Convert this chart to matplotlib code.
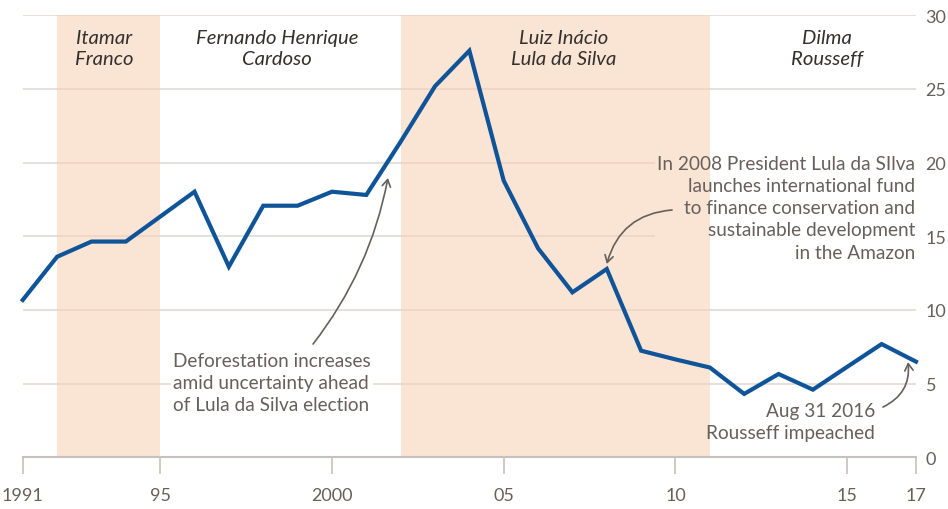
import matplotlib

matplotlib.use("Agg")
import matplotlib.pyplot as plt

plt.rcParams["font.family"] = ["Lato", "DejaVu Sans"]

# Amazon deforestation, thousand sq km (no separate point drawn for 1995)
years = [1991, 1992, 1993, 1994, 1996, 1997, 1998, 1999, 2000, 2001, 2002, 2003,
         2004, 2005, 2006, 2007, 2008, 2009, 2010, 2011, 2012, 2013, 2014, 2015,
         2016, 2017]
area = [10.68, 13.61, 14.64, 14.64, 18.02, 12.94, 17.07, 17.07, 18.02, 17.8, 21.41,
        25.17, 27.58, 18.77, 14.18, 11.2, 12.78, 7.24, 6.65, 6.1, 4.31, 5.66, 4.6,
        6.15, 7.69, 6.5]

shaded_terms = [(1992, 1995), (2002, 2011)]
presidents = ["Itamar\nFranco", "Fernando Henrique\nCardoso", "Luiz Inácio\nLula da Silva",
              "Dilma\nRousseff"]
president_x = [1993.38, 1998.4, 2006.75, 2014.4]

x_ticks = [1991, 1995, 2000, 2005, 2010, 2015, 2017]
x_labels = ["1991", "95", "2000", "05", "10", "15", "17"]
y_ticks = [0, 5, 10, 15, 20, 25, 30]

BLUE = "#0f5499"
GRID = "#e2dad3"
AXIS = "#c8c1bb"
NOTE = "#66605c"
DARK = "#33302e"
SHADE = "#f7d2b7"

fig = plt.figure(figsize=(9.48, 5.10), dpi=100)
ax = fig.add_axes([0.024, 0.101, 0.9422, 0.8676])
ax.set_xlim(1991, 2017)
ax.set_ylim(0, 30)

for y in y_ticks[1:]:
    ax.axhline(y, color=GRID, lw=1.2, zorder=1)

notes = [
    ("Deforestation increases\namid uncertainty ahead\nof Lula da Silva election",
     (1995.37, 5.08), "left", (2001.63, 18.95), (1999.45, 7.69), 0.12),
    ("In 2008 President Lula da SIlva\nlaunches international fund\nto finance conservation and\n"
     "sustainable development\nin the Amazon",
     (2016.97, 16.92), "right", (2008.0, 13.12), (2009.9, 16.78), 0.35),
    ("Aug 31 2016\nRousseff impeached",
     (2015.81, 2.41), "right", (2016.77, 6.47), (2016.04, 3.42), 0.35),
]
NOTE_SIZE = 13.7
NOTE_SPACING = 1.36

# white boxes behind the notes hide the gridlines, the shading still goes over them
for text, (tx, ty), ha, _, _, _ in notes[:2]:
    ax.text(tx, ty, text, ha=ha, va="center", fontsize=NOTE_SIZE, color="white",
            linespacing=NOTE_SPACING, zorder=2,
            bbox=dict(boxstyle="square,pad=0.1", fc="white", ec="none"))

for start, end in shaded_terms:
    ax.axvspan(start, end, color=SHADE, alpha=0.6, lw=0, zorder=3)

ax.plot(years, area, color=BLUE, lw=3, solid_joinstyle="miter", zorder=5, clip_on=False)

for name, x in zip(presidents, president_x):
    ax.text(x, 27.78, name, ha="center", va="center", fontsize=14.6, style="italic",
            color=DARK, linespacing=1.28, zorder=6)

for text, (tx, ty), ha, xy, xytext, rad in notes:
    ax.text(tx, ty, text, ha=ha, va="center", fontsize=NOTE_SIZE, color=NOTE,
            linespacing=NOTE_SPACING, zorder=6)
    ax.annotate("", xy=xy, xytext=xytext, zorder=6,
                arrowprops=dict(arrowstyle="->,head_length=0.5,head_width=0.3",
                                connectionstyle=f"arc3,rad={rad}", color=NOTE, lw=1.2,
                                shrinkA=0, shrinkB=0))

for side in ["top", "left", "right"]:
    ax.spines[side].set_visible(False)
ax.spines["bottom"].set_color(AXIS)
ax.spines["bottom"].set_linewidth(1.5)
ax.spines["bottom"].set_zorder(4)

ax.set_xticks(x_ticks)
ax.set_xticklabels(x_labels)
ax.tick_params(axis="x", length=12.5, width=1.2, color=AXIS, labelcolor=NOTE,
               labelsize=13, pad=8.5)
ax.yaxis.tick_right()
ax.set_yticks(y_ticks)
ax.tick_params(axis="y", length=0, labelcolor=NOTE, labelsize=13, pad=7)

fig.savefig("out.png", dpi=100, facecolor="white")
